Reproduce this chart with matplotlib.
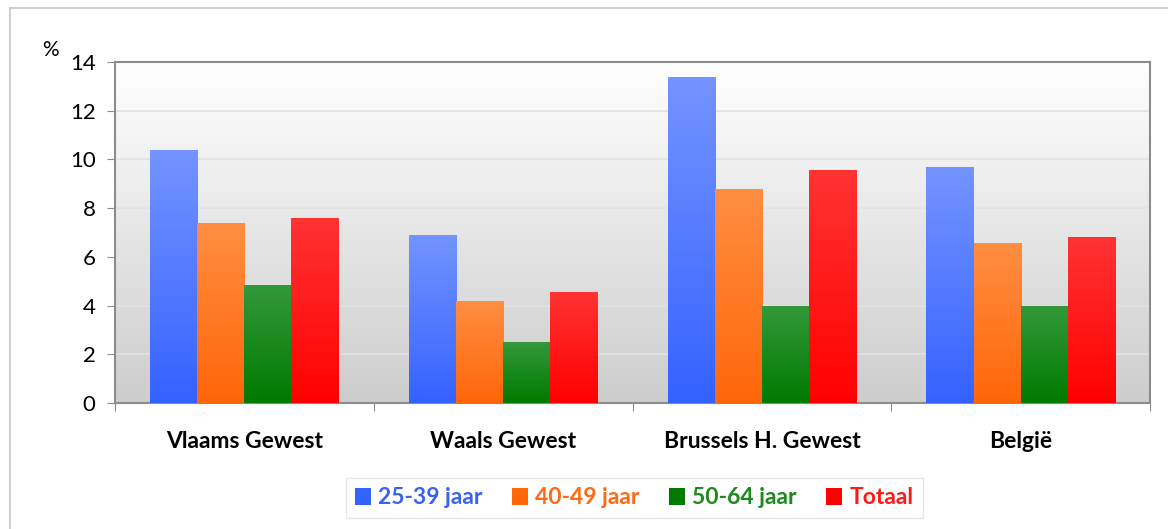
import numpy as np
import matplotlib
matplotlib.use("Agg")
import matplotlib.pyplot as plt
from matplotlib.patches import Rectangle, Patch
from matplotlib.colors import LinearSegmentedColormap

plt.rcParams['font.family'] = ['Lato', 'DejaVu Sans']

categories = ["Vlaams Gewest", "Waals Gewest", "Brussels H. Gewest", "België"]
series = ["25-39 jaar", "40-49 jaar", "50-64 jaar", "Totaal"]
v_25_39 = [10.4, 6.9, 13.4, 9.7]
v_40_49 = [7.4, 4.2, 8.8, 6.55]
v_50_64 = [4.85, 2.5, 4.0, 4.0]
v_totaal = [7.6, 4.55, 9.55, 6.8]
values = [v_25_39, v_40_49, v_50_64, v_totaal]

# top / bottom colours of each bar gradient
grad = [("#7494ff", "#3462ff"), ("#ff8e42", "#ff6608"),
        ("#33993a", "#007a00"), ("#ff3333", "#ff0000")]
text_cols = ["#3a62f0", "#ff6a14", "#1e8a1e", "#ff1a1a"]

fig = plt.figure(figsize=(11.68, 5.29), dpi=100)
ax = fig.add_axes([115/1168, 1-403/529, (1150-115)/1168, (403-62)/529])

# outer frame of the chart
fig.patches.append(Rectangle((10/1168, -0.1), 1.2, 1-8/529+0.1, transform=fig.transFigure,
                             fill=False, edgecolor="#d0d0d0", lw=1.5, zorder=0))

ax.set_xlim(-0.5, 3.5)
ax.set_ylim(0, 14)

# plot background gradient
bg = LinearSegmentedColormap.from_list("bg", ["#cdcdcd", "#ffffff"])
ax.imshow(np.linspace(0, 1, 256).reshape(-1, 1), cmap=bg, aspect="auto",
          extent=[-0.5, 3.5, 0, 14], origin="lower", zorder=0)

for y in range(2, 14, 2):
    ax.axhline(y, color="#e2e2e2", lw=1.2, zorder=1)

x = np.arange(len(categories))
w = 0.182
for i, vals in enumerate(values):
    cm = LinearSegmentedColormap.from_list("c%d" % i, [grad[i][1], grad[i][0]])
    bars = ax.bar(x + (i - 1.5) * w, vals, width=w, color=grad[i][1], zorder=2)
    for b in bars:
        x0, y0 = b.get_x(), b.get_y()
        im = ax.imshow(np.linspace(0, 1, 256).reshape(-1, 1), cmap=cm, aspect="auto",
                       extent=[x0, x0 + b.get_width(), 0, b.get_height()],
                       origin="lower", zorder=3)
        im.set_clip_path(b)

ax.set_xlim(-0.5, 3.5)
ax.set_ylim(0, 14)

for s in ax.spines.values():
    s.set_color("#8c8c8c")
    s.set_linewidth(1.5)

ax.set_yticks(range(0, 15, 2))
ax.tick_params(axis="y", labelsize=16, length=6, color="#8c8c8c", pad=8)
ax.set_xticks([-0.5, 0.5, 1.5, 2.5, 3.5])
ax.set_xticklabels([])
ax.tick_params(axis="x", length=6, color="#8c8c8c")
for c, lab in zip(x, categories):
    ax.text(c, -1.6, lab, ha="center", va="center", fontsize=16.5, fontweight="bold")

fig.text(50/1168, 1-50/529, "%", fontsize=15, ha="center", va="center")

handles = [Patch(facecolor=grad[i][1], edgecolor="none") for i in range(4)]
leg = fig.legend(handles, series, loc="center", bbox_to_anchor=(634/1168, 1-498/529),
                 ncol=4, frameon=True, fontsize=16.5, handlelength=0.7, handleheight=0.7,
                 handletextpad=0.3, columnspacing=1.3, borderpad=0.4, fancybox=False)
leg.get_frame().set_edgecolor("#e0e0e0")
for t, c in zip(leg.get_texts(), text_cols):
    t.set_color(c)
    t.set_fontweight("bold")

fig.savefig("out.png", dpi=100)
